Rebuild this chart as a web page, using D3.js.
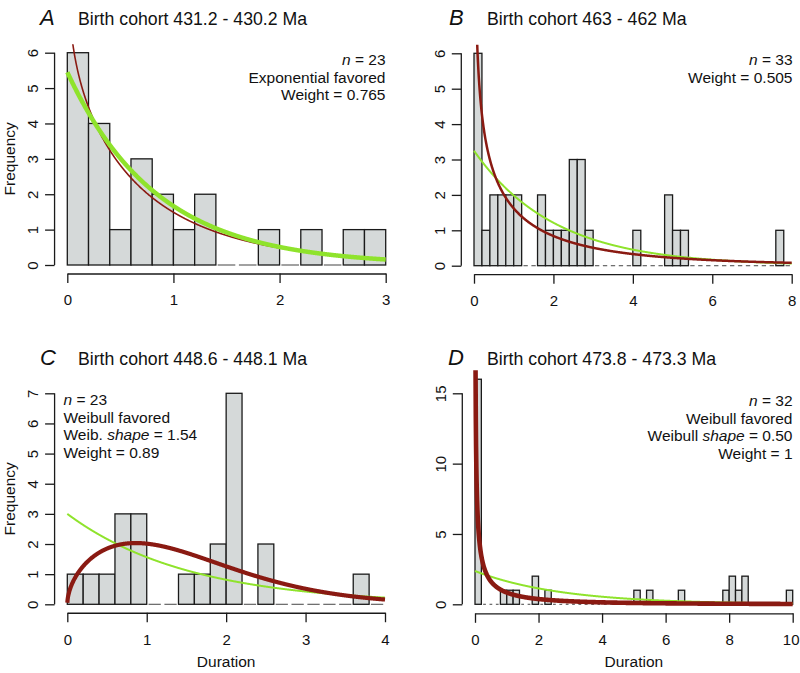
<!DOCTYPE html>
<html><head><meta charset="utf-8">
<script src="https://cdn.jsdelivr.net/npm/d3@7"></script>
<style>
body{margin:0;background:#fff}
svg{display:block}
text{font-family:"Liberation Sans",Arial,Helvetica,sans-serif;fill:#111}
</style>
</head><body>
<svg id="chart" width="800" height="673"></svg>
<script>
// ---------------- DATA ----------------
const binWidth = 0.2;

// histogram counts per 0.2-wide bin, starting at 0
const countsA = [6,4,1,3,2,1,2,0,0,1,0,1,0,1,1];
const countsB = [6,1,2,2,2,2,0,0,2,1,1,1,3,3,1,0,0,0,0,0,1,0,0,0,2,1,1,0,0,0,0,0,0,0,0,0,0,0,1,0];
const countsC = [1,1,1,3,3,0,0,1,1,2,7,0,2,0,0,0,0,0,1,0];
const countsD = [16,0,0,0,1,1,1,0,0,2,0,1,0,0,0,0,0,0,0,0,0,0,0,0,0,1,0,1,0,0,0,0,1,0,0,0,0,0,0,1,2,1,2,0,0,0,0,0,0,1];

const xTicksA = [0,1,2,3];
const xTicksB = [0,2,4,6,8];
const xTicksC = [0,1,2,3,4];
const xTicksD = [0,2,4,6,8,10];
const yTicksA = [0,1,2,3,4,5,6];
const yTicksB = [0,1,2,3,4,5,6];
const yTicksC = [0,1,2,3,4,5,6,7];
const yTicksD = [0,5,10,15];
const yLimits = [6, 6, 7, 16];

const titles = ["Birth cohort 431.2 - 430.2 Ma", "Birth cohort 463 - 462 Ma",
                "Birth cohort 448.6 - 448.1 Ma", "Birth cohort 473.8 - 473.3 Ma"];
const letters = ["A","B","C","D"];

// fitted curves (expected counts): exponential and Weibull
const expFitA = {rate:1.185, mult:4.6};
const expFitB = {rate:0.492, mult:6.6};
const expFitC = {rate:0.652, mult:4.6};
const expFitD = {rate:0.37,  mult:6.4};
const weibFitA = {shape:0.9,  scale:0.8,   mult:4.6};
const weibFitB = {shape:0.7,  scale:1.6,   mult:6.6};
const weibFitC = {shape:1.54, scale:1.70,  mult:4.6};
const weibFitD = {shape:0.5,  scale:0.826, mult:4.56};

// annotation lines: segments [text, italic]
const notesA = [[["n",true],[" = 23",false]],[["Exponential favored",false]],[["Weight = 0.765",false]]];
const notesB = [[["n",true],[" = 33",false]],[["Weight = 0.505",false]]];
const notesC = [[["n",true],[" = 23",false]],[["Weibull favored",false]],[["Weib. ",false],["shape",true],[" = 1.54",false]],[["Weight = 0.89",false]]];
const notesD = [[["n",true],[" = 32",false]],[["Weibull favored",false]],[["Weibull ",false],["shape",true],[" = 0.50",false]],[["Weight = 1",false]]];

// ---------------- LAYOUT ----------------
const panels = [
  {counts:countsA, xt:xTicksA, yt:yTicksA, ylim:yLimits[0], exp:expFitA, weib:weibFitA, notes:notesA,
   px:[67.3,385.7], py0:265, pyTick:[6,52.7], letterX:40, titleX:78, titleY:25, expW:4.5, weibW:1.6, expTop:true,
   notesAnchor:"end", notesX:385.5, notesY:65, freq:true},
  {counts:countsB, xt:xTicksB, yt:yTicksB, ylim:yLimits[1], exp:expFitB, weib:weibFitB, notes:notesB,
   px:[474,791.7], py0:265.7, pyTick:[6,53.3], letterX:449, titleX:487, titleY:25, expW:2, weibW:2.5, expTop:false,
   notesAnchor:"end", notesX:792.5, notesY:65, freq:false},
  {counts:countsC, xt:xTicksC, yt:yTicksC, ylim:yLimits[2], exp:expFitC, weib:weibFitC, notes:notesC,
   px:[67.3,385], py0:604.3, pyTick:[7,393.3], letterX:40, titleX:78, titleY:365, expW:2, weibW:4.2, expTop:false,
   notesAnchor:"start", notesX:63.5, notesY:405, freq:true, dur:true},
  {counts:countsD, xt:xTicksD, yt:yTicksD, ylim:yLimits[3], exp:expFitD, weib:weibFitD, notes:notesD,
   px:[475,792.7], py0:604.3, pyTick:[15,393.3], letterX:448, titleX:487, titleY:365, expW:2, weibW:4.6, expTop:false,
   notesAnchor:"end", notesX:792.5, notesY:406, freq:false, dur:true}
];

const GREEN = "#8fe32c", BROWN = "#8a1a12";
const FONT = '"Liberation Sans",Arial,sans-serif';
const svg = d3.select("#chart");

function expDens(f, x){ return f.mult * f.rate * Math.exp(-f.rate * x); }
function weibDens(f, x){
  const z = x / f.scale;
  return f.mult * (f.shape / f.scale) * Math.pow(z, f.shape - 1) * Math.exp(-Math.pow(z, f.shape));
}

panels.forEach((p, pi) => {
  const xmax = p.xt[p.xt.length-1];
  const x = d3.scaleLinear().domain([0, xmax]).range(p.px);
  const y = d3.scaleLinear().domain([0, p.pyTick[0]]).range([p.py0, p.pyTick[1]]);
  const g = svg.append("g");

  const regL = x(-0.04*xmax), regR = x(xmax*1.04);
  const regB = y(-0.04*p.ylim), regT = y(p.ylim*1.04);

  // title
  g.append("text").attr("x", p.letterX).attr("y", p.titleY).attr("font-size", 22)
    .attr("font-style","italic").text(letters[pi]);
  g.append("text").attr("x", p.titleX).attr("y", p.titleY).attr("font-size", 17.7).text(titles[pi]);

  // bars
  const bins = p.counts.map((c,i)=>({x0:i*binWidth, x1:(i+1)*binWidth, c}));
  g.selectAll("rect.bar").data(bins.filter(b=>b.c>0)).join("rect")
    .attr("x", d=>x(d.x0)).attr("width", d=>x(d.x1)-x(d.x0))
    .attr("y", d=>y(d.c)).attr("height", d=>y(0)-y(d.c))
    .attr("fill","#d5d9d9").attr("stroke","#1a1a1a").attr("stroke-width",1.3);
  g.selectAll("line.zero").data(bins.filter(b=>b.c===0)).join("line")
    .attr("x1", d=>x(d.x0)+1.8).attr("x2", d=>x(d.x1)-1.8)
    .attr("y1", y(0)).attr("y2", y(0))
    .attr("stroke","#555").attr("stroke-width",1.1);

  // curves
  const clipId = "clip"+pi;
  svg.append("clipPath").attr("id", clipId).append("rect")
    .attr("x", regL).attr("y", regT).attr("width", regR-regL).attr("height", regB-regT);
  const xs = d3.range(0, 1201).map(i => Math.max(i/1200*xmax, 0.0005));
  const line = d3.line().x(d=>x(d[0])).y(d=>y(Math.min(d[1], p.ylim*3)));
  const eData = xs.map(v=>[v, expDens(p.exp, v)]);
  const wData = xs.map(v=>[v, weibDens(p.weib, v)]);
  const cg = g.append("g").attr("clip-path", `url(#${clipId})`);
  const drawE = () => cg.append("path").attr("d", line(eData)).attr("fill","none")
      .attr("stroke", GREEN).attr("stroke-width", p.expW).attr("stroke-linejoin","round");
  const drawW = () => cg.append("path").attr("d", line(wData)).attr("fill","none")
      .attr("stroke", BROWN).attr("stroke-width", p.weibW).attr("stroke-linejoin","round");
  if (p.expTop){ drawW(); drawE(); } else { drawE(); drawW(); }

  // y axis
  const ya = g.append("g").attr("transform", `translate(${regL},0)`)
    .call(d3.axisLeft(y).tickValues(p.yt).tickSize(9.5).tickFormat(d3.format("d")));
  ya.select(".domain").remove();
  ya.selectAll(".tick line").attr("stroke","#1a1a1a").attr("stroke-width",1.3);
  ya.selectAll(".tick text").attr("transform","rotate(-90)").attr("x",0).attr("y",-16.5)
    .attr("dy",0).attr("text-anchor","middle").attr("font-size",15)
    .attr("font-family",FONT).attr("fill","#111");
  ya.append("line").attr("x1",0).attr("x2",0).attr("y1", y(p.yt[0])).attr("y2", y(p.yt[p.yt.length-1]))
    .attr("stroke","#1a1a1a").attr("stroke-width",1.3);

  // x axis
  const xa = g.append("g").attr("transform", `translate(0,${regB})`)
    .call(d3.axisBottom(x).tickValues(p.xt).tickSize(9.5).tickSizeOuter(0).tickFormat(d3.format("d")));
  xa.select(".domain").attr("stroke","#1a1a1a").attr("stroke-width",1.3);
  xa.selectAll(".tick line").attr("stroke","#1a1a1a").attr("stroke-width",1.3);
  xa.selectAll(".tick text").attr("y",32).attr("dy",0).attr("font-size",15)
    .attr("font-family",FONT).attr("fill","#111");
  // keep the right-most label inside the page
  xa.selectAll(".tick text").each(function(d){
    const tx = x(d), w = this.getComputedTextLength();
    if (tx + w/2 > 799) d3.select(this).attr("dx", 799 - (tx + w/2));
  });

  // annotation
  p.notes.forEach((ln, li) => {
    const t = g.append("text").attr("x", p.notesX).attr("y", p.notesY + li*17.6)
      .attr("font-size", 15.5).attr("text-anchor", p.notesAnchor);
    ln.forEach(seg => t.append("tspan").attr("font-style", seg[1] ? "italic" : "normal").text(seg[0]));
  });

  if (p.freq){
    const cy = (regT + regB)/2;
    g.append("text").attr("transform", `translate(15,${cy}) rotate(-90)`)
      .attr("text-anchor","middle").attr("font-size",15.5).text("Frequency");
  }
  if (p.dur){
    g.append("text").attr("x", (p.px[0]+p.px[1])/2).attr("y", 667)
      .attr("text-anchor","middle").attr("font-size",15.5).text("Duration");
  }
});
</script>
</body></html>
